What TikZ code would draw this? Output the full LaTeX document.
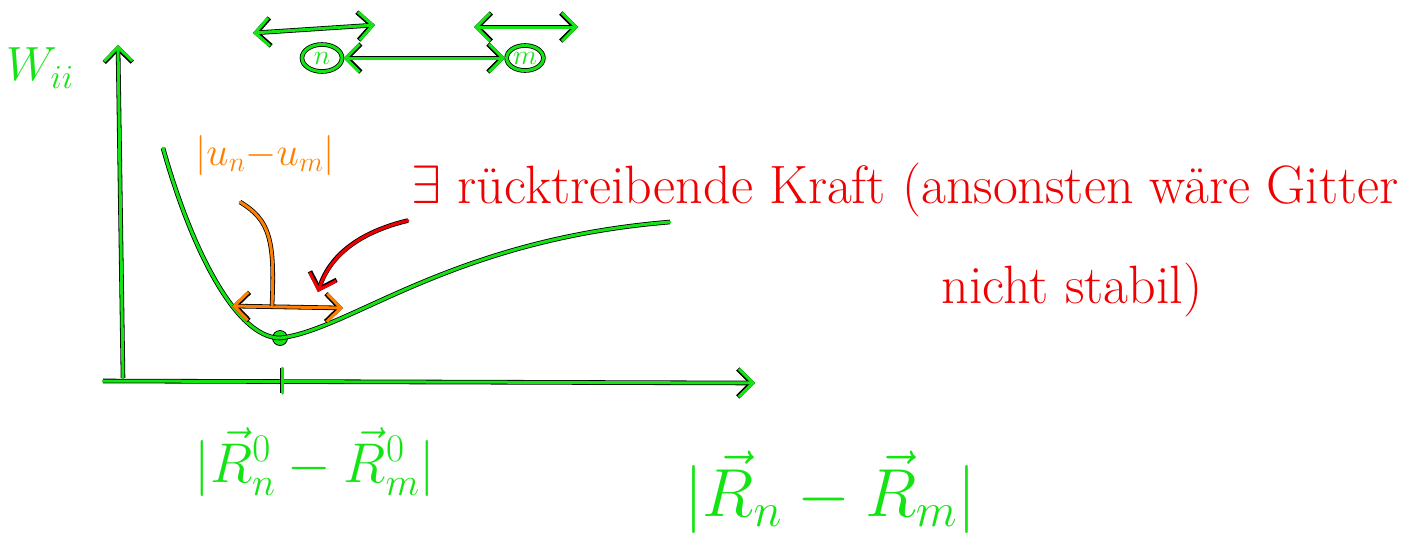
\RequirePackage{fix-cm}
\documentclass[tikz,border=0pt]{standalone}
\usepackage{amsmath}
\usepackage{xcolor}
\usepackage{tikz}
\usetikzlibrary{shapes.geometric}
\usetikzlibrary{arrows.meta}
\usetikzlibrary{positioning}
\definecolor{pengreen}{RGB}{20,228,20}
\definecolor{penorange}{RGB}{255,128,0}
\definecolor{penred}{RGB}{240,0,0}
\begin{document}
\begin{tikzpicture}[
  x=1pt, y=-1pt,
  pen/.style={line width=3pt, line cap=round, line join=round,
    preaction={draw=black, line width=4.6pt}},
  tip/.style={-{Straight Barb[length=14pt, width=28pt]}},
  tips/.style={{Straight Barb[length=14pt, width=28pt]}-{Straight Barb[length=14pt, width=28pt]}},
  atom/.style={ellipse, draw=pengreen, line width=3pt, inner sep=1pt,
    minimum width=40pt, minimum height=27pt,
    preaction={draw=black, line width=4.6pt}, text=pengreen,
    font=\fontsize{28}{30}\selectfont},
  dot/.style={circle, fill=pengreen, draw=black, line width=0.8pt, minimum size=15pt, inner sep=0pt},
  hand/.style={font=\fontsize{54}{60}\selectfont}
]
\useasboundingbox (0,0) rectangle (1416,550);
% atoms on top
\node[atom] (n) at (322,58) {$n$};
\node[atom, minimum width=34pt, minimum height=25pt] (m) at (525,58) {$m$};
\draw[pen, pengreen, tips] (n) -- (m);
\coordinate (nl) at (253,33); \coordinate (nr) at (375,25);
\coordinate (ml) at (474,27); \coordinate (mr) at (578,27);
\draw[pen, pengreen, tips] (nl) -- (nr);
\draw[pen, pengreen, tips] (ml) -- (mr);
% axes
\coordinate (origin) at (123,378);
\coordinate (ytop) at (118,45);
\coordinate (xstart) at (103,381);
\coordinate (xend) at (755,383);
\draw[pen, pengreen, tip] (origin) -- (ytop);
\draw[pen, pengreen, tip] (xstart) -- (xend);
\draw[pen, pengreen] (282,368) -- (282,393);
\node[text=pengreen, font=\fontsize{48}{52}\selectfont] (w) at (40,68) {$W_{ii}$};
% potential curve
\node[dot] (eq) at (280,338) {};
\coordinate (cstart) at (163,148);
\coordinate (cend) at (670,222);
\draw[pen, pengreen] (cstart) .. controls (190,245) and (235,338) .. (eq.center)
  .. controls (350,330) and (450,240) .. (cend);
% displacement
\coordinate (ul) at (232,306);
\coordinate (ur) at (343,308);
\draw[pen, penorange, tips] (ul) -- (ur);
\node[text=penorange, font=\fontsize{40}{44}\selectfont] (u) at (265,155) {$|u_n{-}u_m|$};
\coordinate (ustart) at (240,202);
\coordinate (umid) at (272,306);
\draw[pen, penorange] (ustart) .. controls (270,220) and (275,240) .. (umid);
% restoring force
\node[hand, text=penred, anchor=west] (force) at (408,190) {$\exists$ rücktreibende Kraft (ansonsten wäre Gitter};
\node[hand, text=penred] (stable) at (1072,290) {nicht stabil)};
\coordinate (fhead) at (318,292);
\draw[pen, penred, tip] (force.south west) .. controls (360,232) and (330,255) .. (fhead);
% axis labels
\node[text=pengreen, font=\fontsize{56}{60}\selectfont] (r0) at (315,462) {$|\vec R^0_n - \vec R^0_m|$};
\node[text=pengreen, font=\fontsize{68}{72}\selectfont] (r) at (830,492) {$|\vec R_n - \vec R_m|$};
\end{tikzpicture}
\end{document}
